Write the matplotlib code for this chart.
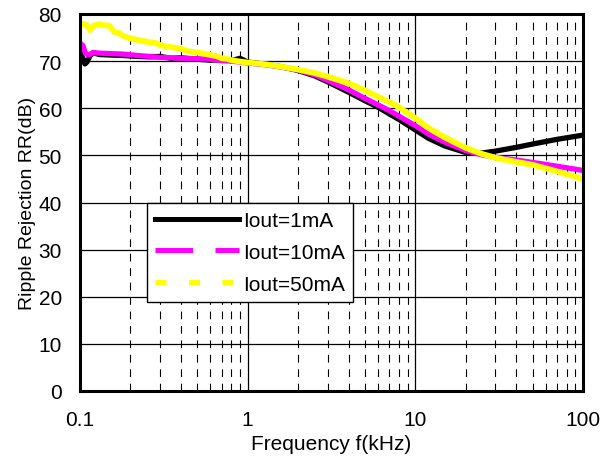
import matplotlib
matplotlib.use("Agg")
import matplotlib.pyplot as plt
from matplotlib.lines import Line2D
from matplotlib.ticker import FixedLocator, NullFormatter

plt.rcParams['font.family'] = ['Liberation Sans', 'DejaVu Sans']

# ---- data (frequency in kHz, ripple rejection in dB) ----
freq_1mA = [0.1, 0.103, 0.107, 0.11, 0.115, 0.12, 0.13, 0.15, 0.18, 0.22, 0.26, 0.3, 0.35,
            0.4, 0.5, 0.6, 0.7, 0.8, 0.9, 1, 1.3, 1.6, 2, 2.5, 3, 4, 5, 6, 7, 8, 10, 12,
            15, 20, 25, 30, 40, 50, 70, 100]
rr_1mA = [72.6, 71.0, 69.4, 69.8, 71.2, 71.8, 71.4, 71.3, 71.2, 71.0, 70.9, 71.0, 70.6,
          70.7, 70.4, 70.2, 70.3, 70.1, 70.6, 69.8, 69.3, 68.8, 68.0, 66.9, 65.6, 63.4,
          61.6, 60.2, 58.8, 57.6, 55.4, 53.6, 52.0, 50.6, 50.5, 50.9, 51.7, 52.4, 53.4, 54.3]

freq_10mA = [0.1, 0.104, 0.108, 0.112, 0.12, 0.13, 0.15, 0.18, 0.22, 0.26, 0.3, 0.35, 0.4,
             0.5, 0.6, 0.7, 0.8, 0.9, 1, 1.3, 1.6, 2, 2.5, 3, 4, 5, 6, 7, 8, 10, 12, 15,
             20, 25, 30, 40, 50, 70, 100]
rr_10mA = [73.8, 73.3, 71.6, 71.3, 71.8, 71.7, 71.6, 71.5, 71.2, 71.0, 70.8, 70.7, 70.6,
           70.5, 70.4, 70.1, 70.0, 69.8, 69.6, 69.2, 68.7, 68.1, 67.1, 65.9, 63.9, 62.1,
           60.7, 59.5, 58.3, 56.3, 54.5, 52.8, 51.0, 50.1, 49.6, 49.0, 48.5, 47.7, 46.8]

freq_50mA = [0.1, 0.105, 0.11, 0.115, 0.12, 0.125, 0.13, 0.14, 0.15, 0.16, 0.17, 0.18, 0.2,
             0.22, 0.25, 0.28, 0.3, 0.33, 0.36, 0.4, 0.45, 0.5, 0.55, 0.6, 0.65, 0.7, 0.75,
             0.8, 0.9, 1, 1.3, 1.6, 2, 2.5, 3, 4, 5, 6, 7, 8, 10, 12, 15, 20, 25, 30, 40,
             50, 70, 100]
rr_50mA = [77.8, 77.9, 77.6, 76.6, 77.5, 77.7, 77.8, 77.6, 77.5, 76.2, 76.0, 75.4, 74.8,
           74.5, 74.1, 73.9, 73.4, 73.1, 72.9, 72.6, 72.0, 71.8, 71.6, 71.3, 71.1, 70.6,
           70.5, 70.2, 69.9, 69.7, 69.3, 68.8, 68.2, 67.5, 66.7, 65.3, 63.8, 62.4, 61.3,
           60.2, 57.9, 55.8, 53.8, 51.6, 50.3, 49.5, 48.6, 48.0, 46.6, 45.0]

series_labels = ['Iout=1mA', 'Iout=10mA', 'Iout=50mA']
x_ticks = [0.1, 1, 10, 100]
x_tick_labels = ['0.1', '1', '10', '100']
y_ticks = [0, 10, 20, 30, 40, 50, 60, 70, 80]

# ---- figure ----
fig = plt.figure(figsize=(6.09, 4.60), dpi=100)
ax = fig.add_axes([80/609, 1 - 392/460, 503/609, 377/460])

ax.set_xscale('log')
ax.set_xlim(0.1, 100)
ax.set_ylim(0, 80)

# grid
minor_x = [m * 10.0**e for e in (-1, 0, 1) for m in range(2, 10)]
for xv in minor_x:
    ax.axvline(xv, color='black', lw=0.8, linestyle=(0, (7, 6)), zorder=1)
for xv in [1, 10]:
    ax.axvline(xv, color='black', lw=0.9, zorder=1)
for yv in y_ticks[1:-1]:
    ax.axhline(yv, color='black', lw=0.9, zorder=1)

ax.plot(freq_1mA, rr_1mA, color='black', lw=3.8, zorder=3, solid_joinstyle='round')
ax.plot(freq_10mA, rr_10mA, color='#FF00FF', lw=3.8, zorder=4, solid_joinstyle='round')
ax.plot(freq_50mA, rr_50mA, color='#FFFF00', lw=4.2, zorder=5, solid_joinstyle='round')

ax.xaxis.set_major_locator(FixedLocator(x_ticks))
ax.set_xticklabels(x_tick_labels)
ax.xaxis.set_minor_locator(FixedLocator(minor_x))
ax.xaxis.set_minor_formatter(NullFormatter())
ax.set_yticks(y_ticks)
ax.tick_params(axis='both', which='both', length=0, labelsize=15)
ax.tick_params(axis='x', pad=14)
ax.tick_params(axis='y', pad=13)

for sp in ax.spines.values():
    sp.set_linewidth(2.2)
    sp.set_color('black')
    sp.set_zorder(6)

ax.set_xlabel('Frequency f(kHz)', fontsize=15, labelpad=3)
ax.set_ylabel('Ripple Rejection RR(dB)', fontsize=14, labelpad=2)

handles = [
    Line2D([], [], color='black', lw=3.6),
    Line2D([], [], color='#FF00FF', lw=3.6, linestyle=(0, (7.5, 4.5))),
    Line2D([], [], color='#FFFF00', lw=3.6, linestyle=(0, (2.2, 4.5))),
]
leg = ax.legend(handles, series_labels, loc='upper left', bbox_to_anchor=(0.133, 0.50),
                fontsize=15, frameon=True, fancybox=False, framealpha=1,
                edgecolor='black', handlelength=4.0, handletextpad=0.2,
                labelspacing=0.62, borderpad=0.4, borderaxespad=0.0)
leg.get_frame().set_linewidth(1.0)
leg.set_zorder(10)

fig.savefig('out.png', dpi=100)
